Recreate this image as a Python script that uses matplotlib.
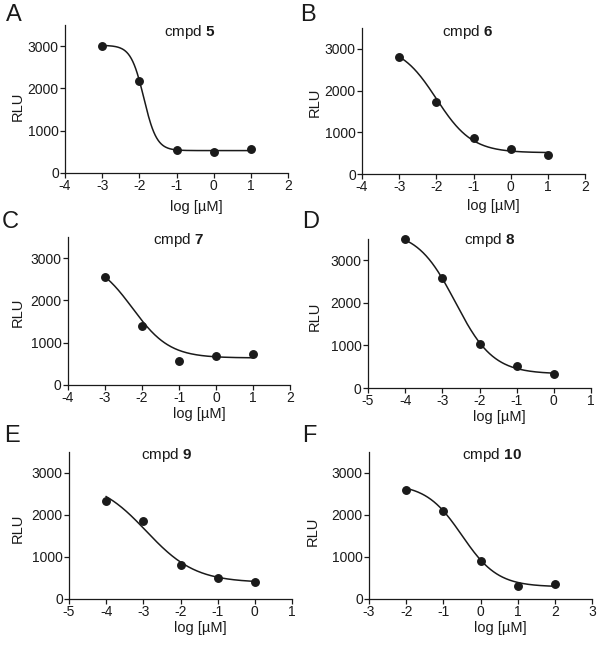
import numpy as np
import matplotlib
matplotlib.use('Agg')
import matplotlib.pyplot as plt

plt.rcParams['font.family'] = ['Liberation Sans', 'DejaVu Sans']
plt.rcParams['mathtext.fontset'] = 'custom'
plt.rcParams['mathtext.rm'] = 'Liberation Sans'
plt.rcParams['mathtext.bf'] = 'Liberation Sans:bold'
plt.rcParams['axes.unicode_minus'] = False

# measured points (log concentration, RLU)
x_5 = [-3, -2, -1, 0, 1]
rlu_5 = [3000, 2170, 535, 487, 558]
x_6 = [-3, -2, -1, 0, 1]
rlu_6 = [2800, 1730, 857, 603, 460]
x_7 = [-3, -2, -1, 0, 1]
rlu_7 = [2561, 1394, 564, 681, 736]
x_8 = [-4, -3, -2, -1, 0]
rlu_8 = [3504, 2583, 1039, 512, 339]
x_9 = [-4, -3, -2, -1, 0]
rlu_9 = [2328, 1863, 821, 489, 402]
x_10 = [-2, -1, 0, 1, 2]
rlu_10 = [2605, 2100, 908, 300, 347]

# 4PL fit: top, bottom, logIC50, hill
fit_5 = [3020, 530, -1.88, 2.5]
fit_6 = [3100, 510, -2.0, 0.9]
fit_7 = [3000, 640, -2.26, 0.86]
fit_8 = [3700, 330, -2.65, 0.85]
fit_9 = [2840, 390, -2.92, 0.655]
fit_10 = [2740, 290, -0.5, 0.9]

compounds = ['5', '6', '7', '8', '9', '10']
letters = ['A', 'B', 'C', 'D', 'E', 'F']
xs = [x_5, x_6, x_7, x_8, x_9, x_10]
ys = [rlu_5, rlu_6, rlu_7, rlu_8, rlu_9, rlu_10]
fits = [fit_5, fit_6, fit_7, fit_8, fit_9, fit_10]
xlims = [(-4, 2), (-4, 2), (-4, 2), (-5, 1), (-5, 1), (-3, 3)]


def four_pl(x, top, bottom, logic50, hill):
    return bottom + (top - bottom) / (1 + 10 ** ((x - logic50) * hill))


W, H = 600, 647
fig = plt.figure(figsize=(W / 100, H / 100), dpi=100)

# axes boxes in pixels: left, bottom(y of zero line), right, top
boxes = [(65, 173, 288, 25), (362, 174, 585, 28),
         (68, 385, 290, 237), (368, 388, 591, 239),
         (69, 599, 292, 452), (369, 599, 592, 452)]
title_pos = [(0.56, 0.95), (0.475, 0.97), (0.5, 0.98),
             (0.545, 0.99), (0.44, 0.98), (0.55, 0.98)]
ylab_pos = [(-0.18, 0.45), (-0.18, 0.49), (-0.194, 0.49),
            (-0.206, 0.48), (-0.197, 0.48), (-0.22, 0.46)]
xlab_pad = [4.5, 3.5, 1.5, 1.5, 1.5, 1.5]
letter_pos = [(6, 15), (300, 15), (2, 222), (302, 222), (4, 436), (302, 436)]

ink = '#1a1a1a'
for i in range(6):
    l, b, r, t = boxes[i]
    ax = fig.add_axes([l / W, 1 - b / H, (r - l) / W, (b - t) / H])
    xx = np.linspace(min(xs[i]), max(xs[i]), 200)
    ax.plot(xx, four_pl(xx, *fits[i]), color=ink, lw=1.1)
    ax.plot(xs[i], ys[i], 'o', color=ink, ms=5.4, clip_on=False, zorder=3)
    ax.set_xlim(*xlims[i])
    ax.set_ylim(0, 3500)
    ax.set_xticks(range(xlims[i][0], xlims[i][1] + 1))
    ax.set_yticks([0, 1000, 2000, 3000])
    for s in ['top', 'right']:
        ax.spines[s].set_visible(False)
    for s in ['left', 'bottom']:
        ax.spines[s].set_linewidth(0.9)
        ax.spines[s].set_color(ink)
    ax.tick_params(direction='out', length=3.5, width=0.9, pad=1,
                   labelsize=10, colors=ink)
    ax.set_ylabel('RLU', fontsize=10.5, color=ink)
    ax.yaxis.set_label_coords(*ylab_pos[i])
    ax.set_xlabel('log [µM]', fontsize=10.5, color=ink, x=0.59, labelpad=xlab_pad[i])
    ax.text(title_pos[i][0], title_pos[i][1], r'cmpd $\mathbf{' + compounds[i] + '}$',
            transform=ax.transAxes, ha='center', va='center', fontsize=11, color=ink)
    fig.text(letter_pos[i][0] / W, 1 - letter_pos[i][1] / H, letters[i],
             fontsize=17, ha='left', va='center', color=ink)

fig.savefig('out.png', dpi=100, facecolor='white')
